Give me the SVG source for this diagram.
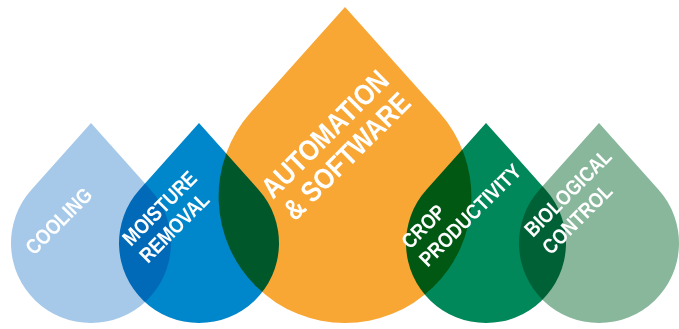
<svg xmlns="http://www.w3.org/2000/svg" width="679" height="329" viewBox="0 0 679 329">
<style>
.drop{mix-blend-mode:multiply}
.lbl{font-family:"Liberation Sans",Arial,sans-serif;font-weight:bold;fill:#fff;font-size:21px}
.big{font-size:29px}
</style>
<rect width="679" height="329" fill="#fff"/>
<g id="connectors"/>
<g id="cooling">
<path class="drop" fill="#A6C9E9" d="M91,123 L31.4,189.7 A80,80 0 1 0 150.6,189.7 Z"/>
<text class="lbl" transform="translate(34,256) rotate(-45) scale(0.86,1)">COOLING</text>
</g>
<g id="moisture">
<path class="drop" fill="#0087CB" d="M199,123 L139.4,189.7 A80,80 0 1 0 258.6,189.7 Z"/>
<text class="lbl" transform="translate(131,247) rotate(-45) scale(0.86,1)"><tspan x="0" y="0">MOISTURE</tspan><tspan x="0" y="24">REMOVAL</tspan></text>
</g>
<g id="automation">
<path class="drop" fill="#F8A634" d="M345,7 L250.8,112.3 A126.4,126.4 0 1 0 439.2,112.3 Z"/>
<text class="lbl big" transform="translate(273,200) rotate(-45) scale(0.86,1)"><tspan x="0" y="0">AUTOMATION</tspan><tspan x="0" y="31">&amp; SOFTWARE</tspan></text>
</g>
<g id="crop">
<path class="drop" fill="#00875A" d="M486,123 L426.4,189.7 A80,80 0 1 0 545.6,189.7 Z"/>
<text class="lbl" transform="translate(410,250) rotate(-45) scale(0.86,1)"><tspan x="0" y="0">CROP</tspan><tspan x="0" y="25">PRODUCTIVITY</tspan></text>
</g>
<g id="biological">
<path class="drop" fill="#88B79C" d="M599,123 L539.4,189.7 A80,80 0 1 0 658.6,189.7 Z"/>
<text class="lbl" transform="translate(533,238) rotate(-45) scale(0.86,1)"><tspan x="0" y="0">BIOLOGICAL</tspan><tspan x="0" y="25">CONTROL</tspan></text>
</g>
</svg>
